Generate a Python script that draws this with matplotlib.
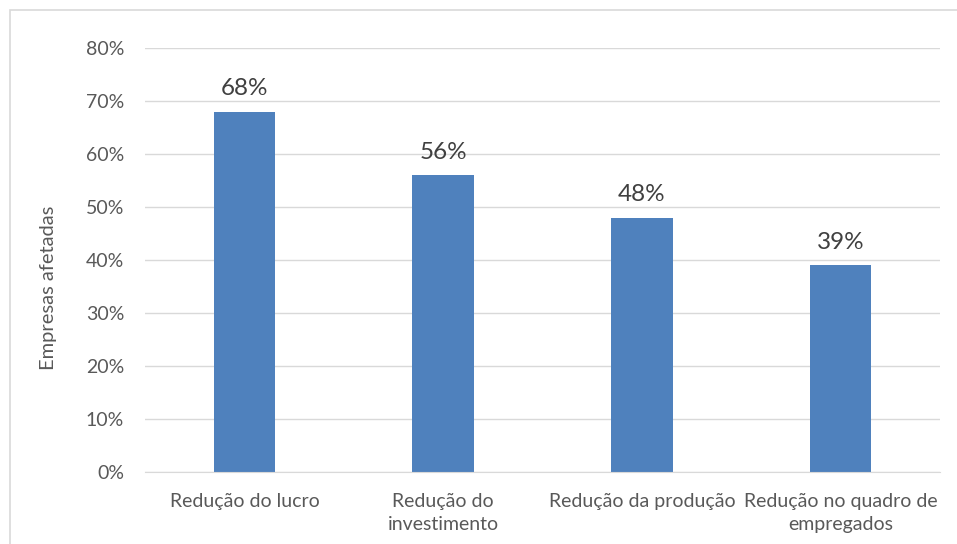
import matplotlib.pyplot as plt
from matplotlib.patches import Rectangle
from matplotlib.ticker import PercentFormatter

categories = ["Redução do lucro", "Redução do\ninvestimento",
              "Redução da produção", "Redução no quadro de\nempregados"]
values = [68, 56, 48, 39]
y_ticks = [0, 10, 20, 30, 40, 50, 60, 70, 80]

plt.rcParams['font.family'] = ['Lato', 'DejaVu Sans']
text_color = "#595959"
grid_color = "#D9D9D9"
bar_color = "#4F81BD"

fig = plt.figure(figsize=(9.57, 5.44), dpi=100)
ax = fig.add_axes([145 / 957, 1 - 472 / 544, 795 / 957, 424 / 544])

x = range(len(categories))
bars = ax.bar(x, values, width=0.31, color=bar_color, zorder=3)

for xi, v in zip(x, values):
    ax.annotate(f"{v}%", (xi, v), xytext=(0, 9), textcoords="offset points",
                ha="center", va="bottom", fontsize=17.5, color="#404040")

ax.set_xlim(-0.5, len(categories) - 0.5)
ax.set_ylim(0, 80)
ax.set_yticks(y_ticks)
ax.yaxis.set_major_formatter(PercentFormatter(decimals=0))
ax.set_xticks(list(x))
ax.set_xticklabels(categories, fontsize=14, color=text_color, linespacing=1.45)
ax.tick_params(axis='y', length=0, pad=15, labelsize=14, labelcolor=text_color)
ax.tick_params(axis='x', length=0, pad=15)
ax.grid(axis='y', color=grid_color, linewidth=1, zorder=0)
for side in ("top", "right", "left"):
    ax.spines[side].set_visible(False)
ax.spines["bottom"].set_color(grid_color)
ax.spines["bottom"].set_zorder(4)

ax.set_ylabel("Empresas afetadas", fontsize=14.5, color=text_color)
ax.yaxis.set_label_coords(-(145 - 57) / 795, (472 - 288) / 424)

# outer chart frame
fig.patches.append(Rectangle((10 / 957, -0.1), 1.1, 1 - 10 / 544 + 0.1,
                             transform=fig.transFigure, fill=False,
                             edgecolor="#D9D9D9", linewidth=1.2))

fig.savefig("out.png", dpi=100)
